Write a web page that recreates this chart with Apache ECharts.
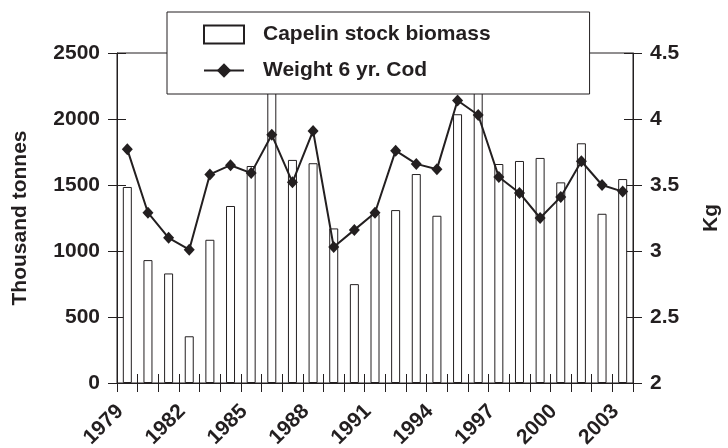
<!DOCTYPE html>
<html>
<head>
<meta charset="utf-8">
<script src="https://cdn.jsdelivr.net/npm/echarts@6/dist/echarts.min.js"></script>
<style>
  html, body { margin: 0; padding: 0; background: #fff; }
  #main { width: 728px; height: 448px; }
</style>
</head>
<body>
<div id="main"></div>
<script>
// years on the category axis
const years = ['1979', '1980', '1981', '1982', '1983', '1984', '1985', '1986', '1987', '1988',
  '1989', '1990', '1991', '1992', '1993', '1994', '1995', '1996', '1997', '1998',
  '1999', '2000', '2001', '2002', '2003']
// capelin stock biomass, thousand tonnes (1986 and 1996 run off the top of the axis)
const biomass = [1485, 931, 830, 354, 1085, 1341, 1644, 2600, 1690, 1665,
  1171, 749, 1280, 1310, 1583, 1267, 2036, 2600, 1659, 1682,
  1705, 1520, 1816, 1282, 1545]
// weight of 6 yr. cod, kg
const codWeight = [3.77, 3.29, 3.10, 3.01, 3.58, 3.65, 3.59, 3.88, 3.52, 3.91,
  3.03, 3.16, 3.29, 3.76, 3.66, 3.62, 4.14, 4.03, 3.56, 3.44,
  3.25, 3.41, 3.68, 3.50, 3.45]

const ink = '#231f20'
const font = { fontFamily: 'Liberation Sans', fontWeight: 'bold', fontSize: 21, color: ink }

const chart = echarts.init(document.getElementById('main'))

// second copy of each axis only draws the inner half of the ticks (ticks cross the axis)
const innerTicks = { show: true, inside: true, length: 9, lineStyle: { color: ink, width: 1 } }
const outerTicks = { show: true, length: 9, lineStyle: { color: ink, width: 1 } }
const plain = v => String(v)

const option = {
  animation: false,
  grid: {
    left: 117, right: 95, top: 53, bottom: 65,
    outerBoundsMode: 'none',
    show: true, borderColor: ink, borderWidth: 1
  },
  legend: {
    left: 167, top: 12,
    orient: 'vertical',
    padding: [12, 99, 13, 36],
    itemGap: 15,
    itemWidth: 40, itemHeight: 18,
    backgroundColor: '#fff',
    borderColor: ink, borderWidth: 1,
    textStyle: { ...font, padding: [0, 0, 0, 14] },
    data: [{ name: 'Capelin stock biomass', icon: 'rect' }, { name: 'Weight 6 yr. Cod' }]
  },
  xAxis: [
    {
      type: 'category', data: years, position: 'bottom', boundaryGap: true,
      axisLine: { lineStyle: { color: ink, width: 1 } },
      axisTick: { ...outerTicks, interval: 0 },
      axisLabel: { ...font, interval: 2, rotate: 45, margin: 18, padding: [0, 10, 0, 0] }
    },
    {
      type: 'category', data: years, position: 'bottom', boundaryGap: true,
      axisLine: { show: false },
      axisTick: { ...innerTicks, interval: 0 },
      axisLabel: { show: false }
    }
  ],
  yAxis: [
    {
      type: 'value', min: 0, max: 2500, interval: 500, position: 'left',
      name: 'Thousand tonnes', nameLocation: 'middle', nameRotate: 90, nameGap: 86,
      nameTextStyle: font,
      axisLine: { show: true, lineStyle: { color: ink, width: 1 } },
      axisTick: outerTicks,
      axisLabel: { ...font, margin: 17, formatter: plain },
      splitLine: { show: false }
    },
    {
      type: 'value', min: 2, max: 4.5, interval: 0.5, position: 'right',
      name: 'Kg', nameLocation: 'middle', nameRotate: 90, nameGap: 68,
      nameTextStyle: font,
      axisLine: { show: true, lineStyle: { color: ink, width: 1 } },
      axisTick: outerTicks,
      axisLabel: { ...font, margin: 17, formatter: plain },
      splitLine: { show: false }
    },
    {
      type: 'value', min: 0, max: 2500, interval: 500, position: 'left',
      axisLine: { show: false }, axisTick: innerTicks,
      axisLabel: { show: false }, splitLine: { show: false }
    },
    {
      type: 'value', min: 2, max: 4.5, interval: 0.5, position: 'right',
      axisLine: { show: false }, axisTick: innerTicks,
      axisLabel: { show: false }, splitLine: { show: false }
    }
  ],
  series: [
    {
      name: 'Capelin stock biomass',
      type: 'bar',
      xAxisIndex: 0, yAxisIndex: 0,
      barWidth: 9,
      itemStyle: { color: '#fff', borderColor: ink, borderWidth: 1 },
      data: biomass
    },
    {
      name: 'Weight 6 yr. Cod',
      type: 'line',
      xAxisIndex: 0, yAxisIndex: 1,
      symbol: 'diamond', symbolSize: [11, 12],
      itemStyle: { color: ink },
      lineStyle: { color: ink, width: 2 },
      data: codWeight
    }
  ]
}

chart.setOption(option)
</script>
</body>
</html>
